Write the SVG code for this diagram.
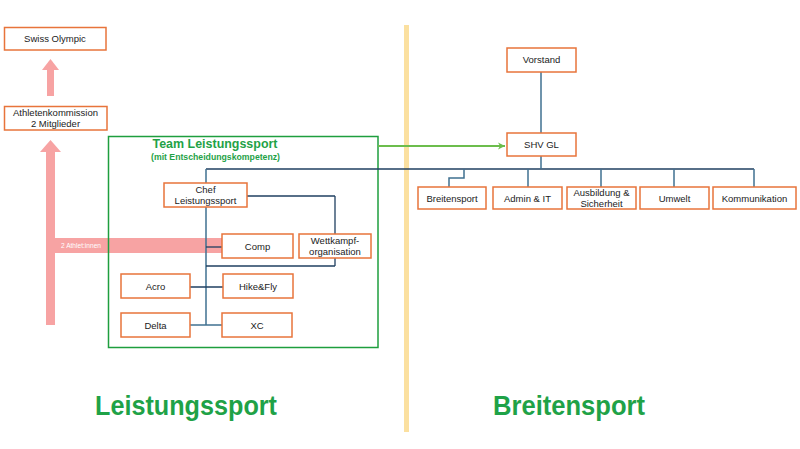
<svg xmlns="http://www.w3.org/2000/svg" width="800" height="449" viewBox="0 0 800 449">
<defs>
<style>
.box{fill:#fff;stroke:#e8743b;stroke-width:1.5}
.t{font-family:"Liberation Sans",Arial,sans-serif;font-size:9.5px;fill:#222;text-anchor:middle}
.cn{fill:none;stroke:#1f3f60;stroke-width:1.3}
.cv{fill:none;stroke:#3f7090;stroke-width:1.5}
.pink{fill:#f7a3a3}
.g{font-family:"Liberation Sans",Arial,sans-serif;font-weight:bold;fill:#1fa247;text-anchor:middle}
</style>
<marker id="ga" markerWidth="8" markerHeight="8" refX="7" refY="4" orient="auto" markerUnits="userSpaceOnUse">
<path d="M0,0.5 L7,4 L0,7.5 L2,4 Z" fill="#6cbd4c"/>
</marker>
</defs>
<rect width="800" height="449" fill="#fff"/>
<!-- divider -->
<rect x="404" y="25" width="5" height="407" fill="#fbe0a0"/>
<!-- pink arrows -->
<g id="pinkArrows">
<rect class="pink" x="47" y="69" width="7" height="27"/>
<polygon class="pink" points="42,70 59,70 50.5,59"/>
<rect class="pink" x="46" y="151" width="9" height="174"/>
<polygon class="pink" points="40,152 61,152 50.5,140"/>
<rect class="pink" x="46" y="238" width="176" height="15"/>
<text x="61" y="248" font-family="Liberation Sans,Arial,sans-serif" font-size="6.5" fill="#fff" textLength="40" lengthAdjust="spacingAndGlyphs">2 Athlet:innen</text>
</g>
<!-- team box -->
<g id="team">
<rect x="108.5" y="136.5" width="269.5" height="211" fill="none" stroke="#1e9e3e" stroke-width="1.5"/>
<text class="g" x="215" y="148" font-size="12.5" textLength="125" lengthAdjust="spacingAndGlyphs">Team Leistungssport</text>
<text class="g" x="215.5" y="159.5" font-size="8.5" textLength="129" lengthAdjust="spacingAndGlyphs">(mit Entscheidungskompetenz)</text>
</g>
<!-- connectors -->
<g id="connectors">
<line x1="378" y1="146" x2="505" y2="146" stroke="#6cbd4c" stroke-width="2" marker-end="url(#ga)"/>
<line class="cn" x1="206" y1="169" x2="754" y2="169"/>
<line class="cv" x1="206" y1="169" x2="206" y2="325"/>
<line class="cn" x1="247" y1="196" x2="335" y2="196"/>
<line class="cn" x1="335" y1="196" x2="335" y2="266"/>
<line class="cn" x1="206" y1="266" x2="335" y2="266"/>
<line class="cn" x1="206" y1="247" x2="222" y2="247"/>
<line class="cn" x1="190" y1="287" x2="223" y2="287"/>
<line class="cv" x1="190" y1="325" x2="222" y2="325" stroke-width="2"/>
<line class="cv" x1="541" y1="72" x2="541" y2="133"/>
<line class="cv" x1="541" y1="156" x2="541" y2="169"/>
<polyline class="cv" points="464,169 464,178 449,178 449,187"/>
<line class="cv" x1="528" y1="169" x2="528" y2="187"/>
<line class="cv" x1="601" y1="169" x2="601" y2="187"/>
<line class="cv" x1="674" y1="169" x2="674" y2="187"/>
<line class="cv" x1="754" y1="169" x2="754" y2="187"/>
</g>
<!-- nodes -->
<g id="swissOlympic"><rect class="box" x="4.5" y="27.5" width="101.5" height="22.5"/><text class="t" x="55" y="42">Swiss Olympic</text></g>
<g id="athletenkommission"><rect class="box" x="4.5" y="106.5" width="102.5" height="23.5"/><text class="t" x="55.5" y="116">Athletenkommission</text><text class="t" x="55.5" y="127">2 Mitglieder</text></g>
<g id="chef"><rect class="box" x="164" y="183" width="83" height="24"/><text class="t" x="205.5" y="193">Chef</text><text class="t" x="205.5" y="204">Leistungssport</text></g>
<g id="comp"><rect class="box" x="222" y="234" width="71" height="24"/><text class="t" x="257.5" y="250">Comp</text></g>
<g id="wettkampf"><rect class="box" x="299" y="234" width="72" height="24"/><text class="t" x="335" y="244">Wettkampf-</text><text class="t" x="335" y="255">organisation</text></g>
<g id="acro"><rect class="box" x="121" y="274" width="69" height="24"/><text class="t" x="155.5" y="290">Acro</text></g>
<g id="hikefly"><rect class="box" x="223" y="274" width="70" height="24"/><text class="t" x="258" y="290">Hike&amp;Fly</text></g>
<g id="delta"><rect class="box" x="121" y="313" width="69" height="24"/><text class="t" x="155.5" y="329">Delta</text></g>
<g id="xc"><rect class="box" x="222" y="313" width="70" height="24"/><text class="t" x="257" y="329">XC</text></g>
<g id="vorstand"><rect class="box" x="507" y="48" width="69" height="24"/><text class="t" x="541.5" y="63">Vorstand</text></g>
<g id="shvgl"><rect class="box" x="507" y="133" width="69" height="23"/><text class="t" x="541.5" y="148">SHV GL</text></g>
<g id="breitensport"><rect class="box" x="418" y="187" width="68" height="22"/><text class="t" x="452" y="201.5">Breitensport</text></g>
<g id="admin"><rect class="box" x="493" y="187" width="69" height="22"/><text class="t" x="527.5" y="201.5">Admin &amp; IT</text></g>
<g id="ausbildung"><rect class="box" x="567" y="187" width="69" height="22"/><text class="t" x="601.5" y="195.5">Ausbildung &amp;</text><text class="t" x="601.5" y="206.5">Sicherheit</text></g>
<g id="umwelt"><rect class="box" x="640" y="187" width="69" height="22"/><text class="t" x="674.5" y="201.5">Umwelt</text></g>
<g id="kommunikation"><rect class="box" x="713" y="187" width="83" height="22"/><text class="t" x="754.5" y="201.5">Kommunikation</text></g>
<!-- titles -->
<text class="g" x="186" y="415" font-size="27" textLength="182" lengthAdjust="spacingAndGlyphs">Leistungssport</text>
<text class="g" x="569" y="415" font-size="27" textLength="152" lengthAdjust="spacingAndGlyphs">Breitensport</text>
</svg>
